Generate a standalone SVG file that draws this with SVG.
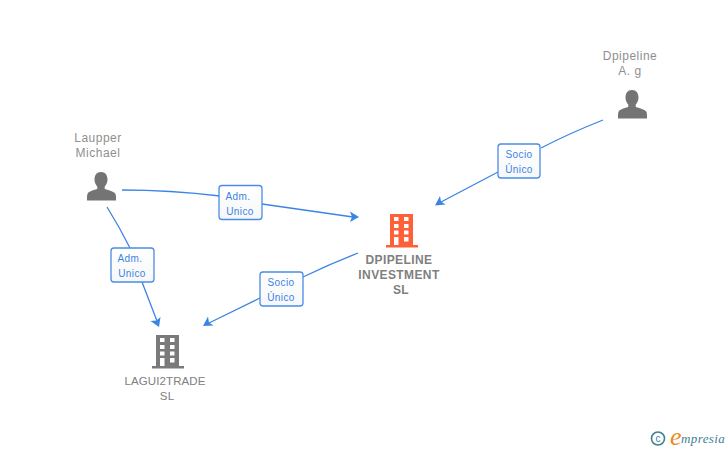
<svg xmlns="http://www.w3.org/2000/svg" width="728" height="450" viewBox="0 0 728 450">
<style>
text{font-family:"Liberation Sans",Arimo,sans-serif}
.n{font-size:12px;fill:#8f8f8f;text-anchor:middle;letter-spacing:.5px}
.b{font-size:12px;fill:#808080;text-anchor:middle;font-weight:700;letter-spacing:.4px}
.g{font-size:11.500px;fill:#808080;text-anchor:middle;letter-spacing:.1px}
.c{fill:none;stroke:#3b84e4;stroke-width:1.3}
.a{fill:#3b84e4;stroke:none}
.l rect{fill:url(#lg);stroke:#4a8de6;stroke-width:1.3}
.l text{font-size:10px;fill:#3b84e4;text-anchor:middle;letter-spacing:.4px}
</style>
<defs>
<linearGradient id="lg" x1="0" y1="0" x2="0" y2="1"><stop offset="0" stop-color="#fff"/><stop offset="1" stop-color="#f6f7f8"/></linearGradient>
<g id="person"><path d="M0-15c4.500 0 6.500 3.500 6.500 7.500 0 3-1.300 5.500-2.800 7v2.300c1 1.200 9 2 10.800 5.200 .6 1.300 .5 4 .5 6.500h-29c0-2.500-.1-5.200.5-6.500C-12.700 3.800-4.700 3-3.700 1.800v-2.300c-1.500-1.500-2.800-4-2.800-7C-6.500-11.500-4.500-15 0-15z"/></g>
<g id="bld"><path fill-rule="evenodd" d="M-12-17H11V14H16V16.500H-16V14H-12ZM-8-14V-10H-3.500V-14ZM2-14V-10H6.500V-14ZM-8-7V-3H-3.500V-7ZM2-7V-3H6.500V-7ZM-8-.5V3.500H-3.500V-.5ZM2-.5V3.500H6.500V-.5ZM-8 6V14H-3.500V6ZM2 6V10.500H6.500V6Z"/></g>
</defs>
<rect width="728" height="450" fill="#fff"/>
<g id="connectors">
<path class="c" d="M122 190Q170 190 220 196"/>
<path class="c" d="M262 204Q310 211 353 217"/>
<path class="a" d="M359 217L350 211.500L352 217L350 222Z"/>
<path class="c" d="M107 207Q120 228 130 248"/>
<path class="c" d="M142 282L157 321"/>
<path class="a" d="M159 327L160.500 317L156.500 320.500L150.500 321Z"/>
<path class="c" d="M358 253Q330 264 303 277"/>
<path class="c" d="M260 298L209 323"/>
<path class="a" d="M203 326L213.500 325.500L209 322.500L208 316.500Z"/>
<path class="c" d="M603 120Q570 133 541 148"/>
<path class="c" d="M498 172L441 202"/>
<path class="a" d="M435 205.500L445.500 204.500L441 201.500L440 196Z"/>
</g>
<g id="node-lauper"><text class="n" x="98" y="142">Laupper</text><text class="n" x="98" y="157">Michael</text><use href="#person" x="101" y="187" fill="#747474"/></g>
<g id="node-dpipeline"><text class="n" x="630" y="60">Dpipeline</text><text class="n" x="630" y="75">A. g</text><use href="#person" x="632" y="105" fill="#747474"/></g>
<g id="node-investment"><use href="#bld" x="402" y="231" fill="#ff6038"/><text class="b" x="399" y="264">DPIPELINE</text><text class="b" x="399" y="279">INVESTMENT</text><text class="b" x="401" y="294">SL</text></g>
<g id="node-lagui"><use href="#bld" x="168" y="352" fill="#7a7a7a"/><text class="g" x="165" y="385">LAGUI2TRADE</text><text class="g" x="167" y="400">SL</text></g>
<g id="label-1" class="l"><rect x="219" y="185.500" width="43" height="34" rx="3"/><text x="238" y="200">Adm.</text><text x="240" y="215">Unico</text></g>
<g id="label-2" class="l"><rect x="111" y="248" width="43" height="34" rx="3"/><text x="130" y="262">Adm.</text><text x="132" y="277">Unico</text></g>
<g id="label-3" class="l"><rect x="260" y="272" width="43" height="34" rx="3"/><text x="281" y="286">Socio</text><text x="281" y="301">Único</text></g>
<g id="label-4" class="l"><rect x="498" y="144" width="42" height="34" rx="3"/><text x="519" y="158">Socio</text><text x="519" y="173">Único</text></g>
<g id="logo"><circle cx="658" cy="438.500" r="6.500" fill="none" stroke="#3f7f92" stroke-width="1.600"/><text x="658" y="442" font-size="10" fill="#3f7f92" text-anchor="middle">c</text><text x="670" y="445" style="font-family:'Liberation Serif',serif" font-size="26" font-style="italic" fill="#f08a1c">e</text><text x="681" y="443" style="font-family:'Liberation Serif',serif" font-size="13" font-style="italic" fill="#3f7f92" letter-spacing=".4">mpresia</text></g>
</svg>
